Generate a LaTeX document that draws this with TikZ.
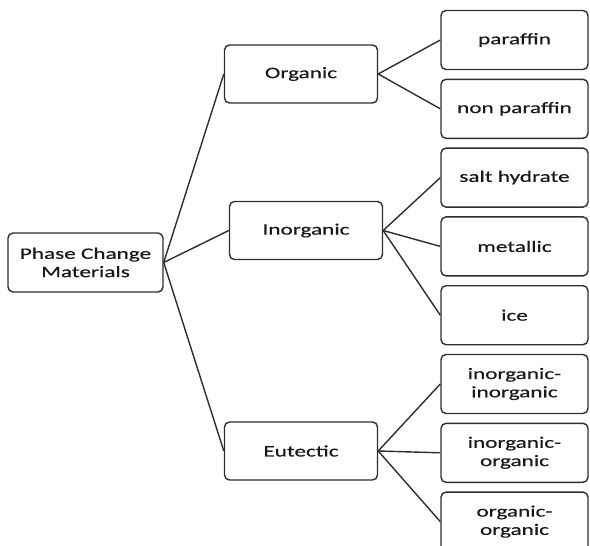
\documentclass[tikz,border=0pt]{standalone}
\usepackage{fontspec}
\setmainfont{Carlito}[FakeStretch=1.45, FakeBold=0.4]
\usetikzlibrary{positioning}
\definecolor{mgray}{HTML}{2E2E2E}
\tikzstyle{box}=[draw=mgray, rounded corners=5pt, line width=1.4pt, align=center, inner sep=0pt, text=black!90, font=\fontsize{16}{18.3}\selectfont]
\tikzstyle{root}=[box, minimum width=155pt, minimum height=59pt]
\tikzstyle{mid}=[box, minimum width=153pt, minimum height=58pt]
\tikzstyle{leaf}=[box, minimum width=147pt, minimum height=59pt]
\tikzstyle{l1}=[line width=1.4pt, draw=mgray]

\begin{document}
\begin{tikzpicture}[x=1pt, y=1pt, node distance=68.8pt, on grid]

    \useasboundingbox (0,0) rectangle (590,-546);
    \clip (0,0) rectangle (590,-546);

    \node[root] (pcm) at (85.5,-262.5) {Phase Change\\Materials};

    \node[mid] (org) at (301,-74) {Organic};
    \node[mid] (inorg) at (306,-230.5) {Inorganic};
    \node[mid] (eut) at (301,-451) {Eutectic};

    \node[leaf] (par) at (514.5,-40) {paraffin};
    \node[leaf] (npar) [below=of par] {non paraffin};
    \node[leaf] (salt) [below=of npar] {salt hydrate};
    \node[leaf] (met) [below=of salt] {metallic};
    \node[leaf] (ice) [below=of met] {ice};
    \node[leaf] (ii) [below=of ice] {inorganic-\\inorganic};
    \node[leaf] (io) [below=of ii] {inorganic-\\organic};
    \node[leaf] (oo) [below=of io] {organic-\\organic};

    \foreach \c in {org,inorg,eut}{
        \draw[l1] (pcm.east) -- (\c.west);
    }
    \foreach \c in {par,npar}{
        \draw[l1] (org.east) -- (\c.west);
    }
    \foreach \c in {salt,met,ice}{
        \draw[l1] (inorg.east) -- (\c.west);
    }
    \foreach \c in {ii,io,oo}{
        \draw[l1] (eut.east) -- (\c.west);
    }

\end{tikzpicture}
\end{document}
